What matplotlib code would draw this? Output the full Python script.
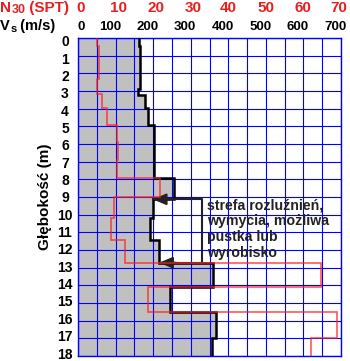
import numpy as np
import matplotlib.pyplot as plt

plt.rcParams['font.family'] = ['Liberation Sans', 'DejaVu Sans']
plt.rcParams['font.weight'] = 'bold'

# profil Vs (m/s) - granice warstw i wartosci
vs_edges = [0, 0.45, 2.9, 3.25, 3.95, 4.93, 7.95, 9.13, 10.21, 11.44, 12.72, 14.08, 15.5, 17.0, 18]
vs_values = [162, 166, 161, 178, 187, 202, 256, 199, 192, 216, 360, 245, 367, 356]

# profil N30 (SPT)
n_edges = [0, 0.45, 2.34, 3.19, 3.94, 4.93, 5.87, 6.91, 7.95, 9.02, 10.21, 11.44, 12.72, 14.08, 15.5, 17.0, 18]
n_values = [5.1, 5.6, 5.0, 6.3, 7.7, 10.3, 10.7, 10.3, 21.8, 9.7, 8.8, 12.5, 64.7, 18.7, 69.0, 61.9]

# strefa rozluznien
zone_top, zone_bottom, zone_right = 9.13, 12.72, 329
zone_text = 'strefa rozluźnień,\nwymycia, możliwa\npustka lub\nwyrobisko'

depth_ticks = list(range(0, 19))
vs_ticks = list(range(0, 701, 100))
n_ticks = list(range(0, 71, 10))

blue = '#0000ff'
red_txt = '#e62020'

fig = plt.figure(figsize=(3.5, 3.61), dpi=100)
ax = fig.add_axes([78 / 350, 5 / 361, 263 / 350, 318 / 361])
ax.set_xlim(0, 700)
ax.set_ylim(18, 0)

# wypelnienie i linia Vs
ax.stairs(vs_values, vs_edges, orientation='horizontal', baseline=0, fill=True,
          color='#c0c0c0', zorder=1)
ax.stairs(vs_values, vs_edges, orientation='horizontal', baseline=None,
          color='black', lw=1.8, zorder=3)

# ramka strefy + strzalki
ax.plot([vs_values[7], zone_right, zone_right, vs_values[9]],
        [zone_top, zone_top, zone_bottom, zone_bottom], color='#222222', lw=1.5, zorder=3)
for x0, y0 in [(vs_values[7], zone_top), (vs_values[9], zone_bottom)]:
    ax.annotate('', xy=(x0, y0), xytext=(x0 + 45, y0),
                arrowprops=dict(arrowstyle='-|>,head_length=0.4,head_width=0.17',
                                color='#222222', lw=1.5, mutation_scale=20,
                                shrinkA=0, shrinkB=0), zorder=4)
ax.text(344, 9.1, zone_text, ha='left', va='top', fontsize=10.2, linespacing=1.15,
        color='#222222', zorder=5)

# siatka
ax.set_xticks(vs_ticks, labels=[])
ax.set_xticks(range(50, 700, 100), minor=True)
ax.set_yticks(depth_ticks, labels=[])
ax.grid(which='both', color=blue, lw=0.8)
ax.tick_params(which='both', length=0)
for s in ax.spines.values():
    s.set_color(blue)
    s.set_linewidth(1.0)

# etykiety glebokosci (lekko sciesnione jak w oryginale)
for d in depth_ticks:
    ax.annotate(str(d), xy=(0, d), xycoords=('axes fraction', 'data'),
                xytext=(-9.4, (0.32 * d - 2.8) * 0.72), textcoords='offset points',
                ha='center', va='center_baseline', fontsize=10)

ax.text(-0.1255, 0.5, 'Głębokość (m)', transform=ax.transAxes, rotation=90,
        ha='center', va='center', fontsize=11)

# etykiety Vs
for v in vs_ticks:
    ax.annotate(str(v), xy=(v, 1.025), xycoords=('data', 'axes fraction'),
                xytext=(2 if v == 0 else -4, 0), textcoords='offset points',
                ha='center', va='baseline', fontsize=9.5)

# druga os: N30
ax2 = ax.twiny()
ax2.set_xlim(0, 70)
ax2.stairs(n_values, n_edges, orientation='horizontal', baseline=None,
           color='#ff2020', alpha=0.75, lw=1.2)
ax2.set_xticks([])
for s in ax2.spines.values():
    s.set_visible(False)
for n in n_ticks:
    dx = 2 if n <= 30 else (0 if n < 70 else -1.5)
    ax2.annotate(str(n), xy=(n, 1.081), xycoords=('data', 'axes fraction'),
                 xytext=(dx, 0), textcoords='offset points',
                 ha='center', va='baseline', fontsize=11, color=red_txt)

# naglowki osi z indeksami dolnymi
n0 = fig.text(0.0, 1 - 12.3 / 361, 'N', color=red_txt, fontsize=11, va='baseline', ha='left')
n1 = ax.annotate('30', xy=(1, 0), xycoords=n0, xytext=(0.3, -0.5), textcoords='offset points',
                 color=red_txt, fontsize=9, va='bottom', ha='left', annotation_clip=False)
ax.annotate(' (SPT)', xy=(1, 0), xycoords=n1, xytext=(0, 0.5), textcoords='offset points',
            color=red_txt, fontsize=11, va='bottom', ha='left', annotation_clip=False)

v0 = fig.text(0.0, 1 - 30 / 361, 'V', color='black', fontsize=10.5, va='baseline', ha='left')
v1 = ax.annotate('s', xy=(1, 0), xycoords=v0, xytext=(0.3, -0.5), textcoords='offset points',
                 fontsize=8, va='bottom', ha='left', annotation_clip=False)
ax.annotate(' (m/s)', xy=(1, 0), xycoords=v1, xytext=(0, 0.5), textcoords='offset points',
            fontsize=10.5, va='bottom', ha='left', annotation_clip=False)

fig.savefig('out.png', dpi=100)
